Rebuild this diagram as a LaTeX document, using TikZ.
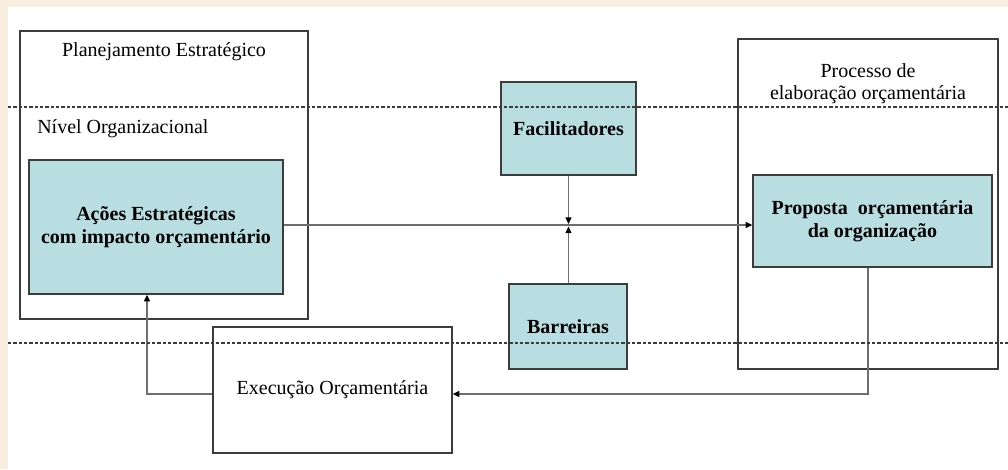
\documentclass[tikz,border=0pt]{standalone}
\usepackage{fontspec}
\setmainfont{Liberation Serif}
\usetikzlibrary{arrows.meta}
\definecolor{cream}{HTML}{F7EEDF}
\definecolor{boxcyan}{HTML}{B9DEE2}
\definecolor{edge}{HTML}{3C3C3C}
\definecolor{conn}{HTML}{6E6E6E}
\begin{document}
\begin{tikzpicture}[x=0.75pt,y=-0.75pt,
  frame/.style={draw=edge,line width=1pt,rectangle,inner sep=0pt},
  cyanbox/.style={frame,fill=boxcyan,font=\fontsize{15pt}{17.5pt}\selectfont\bfseries,align=center},
  plainbox/.style={frame,fill=white,font=\fontsize{15pt}{17pt}\selectfont,align=center},
  lbl/.style={font=\fontsize{15pt}{16.5pt}\selectfont,align=center,inner sep=0pt},
  conline/.style={draw=conn,line width=0.9pt},
  arr/.style={conline,-{Triangle[length=5pt,width=4.5pt,color=black]}},
  levelline/.style={draw=edge,line width=0.8pt,dash pattern=on 2.5pt off 1.5pt}]
\useasboundingbox (0,0) rectangle (1008,469);
\fill[cream] (0,0) rectangle (1008,469);
\fill[white] (8,7) rectangle (1008,469);
% outer frames
\node[frame,minimum width=216pt,minimum height=216pt] (plan) at (164,175) {};
\node[frame,minimum width=195pt,minimum height=247.5pt] (proc) at (868,204) {};
% titles
\node[lbl] (plantitle) at (164,52) {Planejamento Estratégico};
\node[lbl,anchor=west] (nivel) at (37,129) {Nível Organizacional};
\node[lbl] (proctitle) at (868,84) {Processo de\\elaboração orçamentária};
% boxes
\node[cyanbox,minimum width=190.5pt,minimum height=100.5pt] (acoes) at (156,227) {Ações Estratégicas\\com impacto orçamentário};
\node[cyanbox,minimum width=101.25pt,minimum height=69.75pt] (facil) at (568.5,128.5) {Facilitadores};
\node[cyanbox,minimum width=88.5pt,minimum height=63.75pt] (barr) at (568,326.5) {Barreiras};
\node[cyanbox,minimum width=179.25pt,minimum height=69pt] (prop) at (872.5,221) {Proposta\ \ orçamentária\\da organização};
\node[plainbox,minimum width=179.25pt,minimum height=94.5pt] (exec) at (332.5,390) {Execução Orçamentária};
% junction
\coordinate (jtop) at (568.5,224);
\coordinate (jbot) at (568.5,226.5);
\coordinate (p1) at (868,394);
\coordinate (p2) at (147,394);
% connectors
\draw[arr] (acoes.east |- 0,225) -- (prop.west |- 0,225);
\draw[arr] (facil.south) -- (jtop);
\draw[arr] (barr.north -| jbot) -- (jbot);
\draw[arr] (prop.south -| p1) -- (p1) -- (exec.east |- p1);
\draw[arr] (exec.west |- p2) -- (p2) -- (acoes.south -| p2);
% dashed levels
\draw[levelline] (8,107) -- (1008,107);
\draw[levelline] (8,343) -- (1008,343);
\end{tikzpicture}
\end{document}
